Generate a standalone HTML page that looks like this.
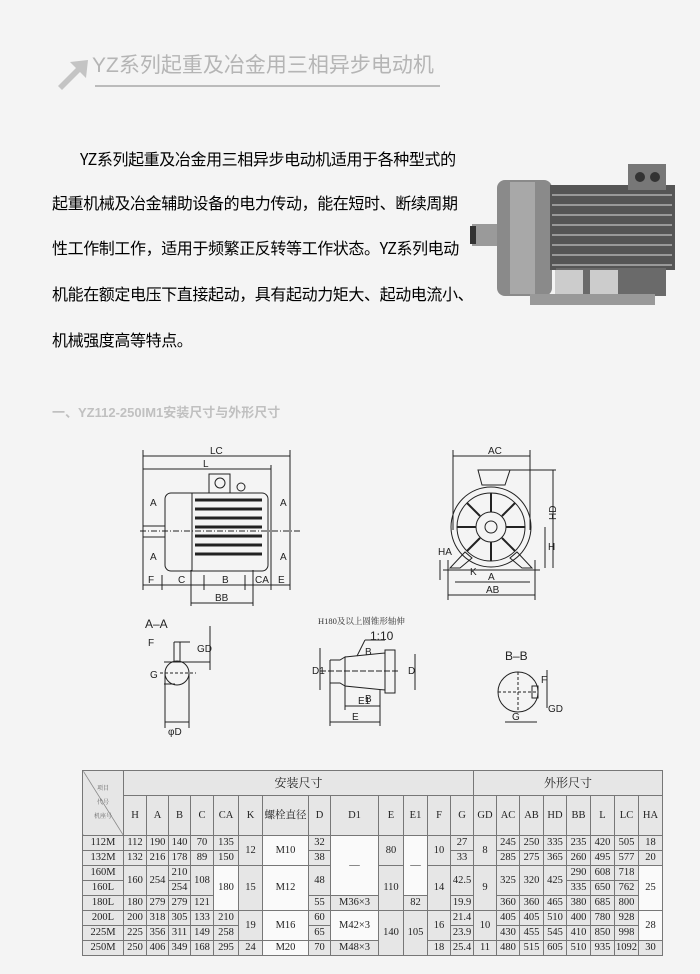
<!DOCTYPE html>
<html><head><meta charset="utf-8"><style>
body{margin:0;width:700px;height:974px;background:#f4f4f4;position:relative;overflow:hidden;font-family:"Liberation Sans","Noto Sans CJK SC",sans-serif;}
.p{position:absolute;left:52px;font-family:"Noto Sans CJK SC",sans-serif;font-size:16px;letter-spacing:-0.4px;color:#000;white-space:nowrap;line-height:22px}
table{position:absolute;left:82px;top:770px;border-collapse:collapse;font-family:"Liberation Serif","Noto Serif CJK SC",serif;font-size:10.5px;color:#222;background:#e6e6e6}
td{border:1px solid #777;text-align:center;padding:0;height:14px;line-height:14px}
.w{background:#fafafa}
</style></head><body>
<svg width="700" height="974" style="position:absolute;left:0;top:0">
<polygon points="58,86 76,68 70,62 88,60 86,78 80,72 62,90" fill="#c4c4c4"/>
<line x1="95" y1="86" x2="440" y2="86" stroke="#bbb" stroke-width="2"/>
<rect x="472" y="224" width="26" height="22" fill="#9a9a9a"/>
<rect x="470" y="226" width="6" height="18" fill="#333"/>
<rect x="497" y="180" width="55" height="116" rx="8" fill="#8a8a8a"/>
<rect x="510" y="182" width="25" height="112" fill="#a8a8a8"/>
<rect x="550" y="185" width="125" height="85" fill="#555"/>
<g stroke="#999" stroke-width="2"><line x1="552" y1="195" x2="672" y2="195"/><line x1="552" y1="205" x2="672" y2="205"/><line x1="552" y1="215" x2="672" y2="215"/><line x1="552" y1="225" x2="672" y2="225"/><line x1="552" y1="235" x2="672" y2="235"/><line x1="552" y1="245" x2="672" y2="245"/><line x1="552" y1="255" x2="672" y2="255"/><line x1="552" y1="265" x2="672" y2="265"/></g>
<rect x="628" y="164" width="38" height="26" fill="#777"/>
<circle cx="640" cy="177" r="5" fill="#333"/><circle cx="655" cy="177" r="5" fill="#333"/>
<rect x="556" y="268" width="110" height="28" fill="#6a6a6a"/>
<rect x="555" y="270" width="28" height="26" fill="#ccc"/><rect x="590" y="270" width="28" height="26" fill="#ccc"/>
<rect x="530" y="294" width="125" height="11" fill="#999"/>
<g stroke="#222" stroke-width="1" fill="none">
<line x1="143" y1="456" x2="290" y2="456"/><line x1="143" y1="469" x2="271" y2="469"/>
<line x1="143" y1="450" x2="143" y2="590"/><line x1="290" y1="450" x2="290" y2="590"/><line x1="271" y1="465" x2="271" y2="590"/>
<rect x="165" y="493" width="103" height="78" rx="6"/>
<line x1="192" y1="493" x2="192" y2="571"/>
<line x1="195" y1="500" x2="262" y2="500" stroke-width="3"/><line x1="195" y1="509" x2="262" y2="509" stroke-width="3"/><line x1="195" y1="518" x2="262" y2="518" stroke-width="3"/><line x1="195" y1="527" x2="262" y2="527" stroke-width="3"/><line x1="195" y1="536" x2="262" y2="536" stroke-width="3"/><line x1="195" y1="545" x2="262" y2="545" stroke-width="3"/><line x1="195" y1="554" x2="262" y2="554" stroke-width="3"/>
<rect x="209" y="474" width="21" height="19"/><circle cx="220" cy="483" r="5"/><circle cx="241" cy="487" r="4"/>
<rect x="143" y="526" width="22" height="11"/>
<line x1="140" y1="531" x2="300" y2="531" stroke-dasharray="6,2,1,2"/>
<line x1="143" y1="585" x2="290" y2="585"/><line x1="191" y1="603" x2="253" y2="603"/>
<line x1="191" y1="570" x2="191" y2="606"/><line x1="253" y1="570" x2="253" y2="606"/>
<line x1="162" y1="575" x2="162" y2="590"/><line x1="204" y1="575" x2="204" y2="590"/><line x1="245" y1="575" x2="245" y2="590"/>
<line x1="453" y1="456" x2="530" y2="456"/><line x1="453" y1="450" x2="453" y2="530"/><line x1="530" y1="450" x2="530" y2="530"/>
<circle cx="491" cy="527" r="40"/><circle cx="491" cy="527" r="34"/><circle cx="491" cy="527" r="15"/><circle cx="491" cy="527" r="6"/>
<g stroke-width="2"><line x1="491" y1="493" x2="491" y2="512"/><line x1="491" y1="542" x2="491" y2="561"/><line x1="457" y1="527" x2="476" y2="527"/><line x1="506" y1="527" x2="525" y2="527"/><line x1="467" y1="503" x2="480" y2="516"/><line x1="515" y1="503" x2="502" y2="516"/><line x1="467" y1="551" x2="480" y2="538"/><line x1="515" y1="551" x2="502" y2="538"/></g>
<polygon points="478,470 510,470 505,485 482,485"/>
<polygon points="465,552 450,568 460,568 472,558"/><polygon points="517,552 532,568 522,568 510,558"/>
<line x1="443" y1="570" x2="540" y2="570"/>
<line x1="455" y1="582" x2="530" y2="582"/><line x1="448" y1="595" x2="535" y2="595"/>
<line x1="448" y1="560" x2="448" y2="600"/><line x1="535" y1="560" x2="535" y2="600"/>
<line x1="553" y1="470" x2="553" y2="568"/><line x1="545" y1="527" x2="545" y2="568"/>
<line x1="500" y1="470" x2="556" y2="470"/><line x1="440" y1="560" x2="440" y2="580"/>
<circle cx="177" cy="673" r="12"/><line x1="160" y1="673" x2="196" y2="673" stroke-dasharray="3,2"/>
<line x1="164" y1="662" x2="210" y2="662"/><line x1="164" y1="684" x2="175" y2="684"/>
<line x1="165" y1="673" x2="165" y2="728"/><line x1="189" y1="673" x2="189" y2="728"/><line x1="165" y1="722" x2="189" y2="722"/>
<line x1="210" y1="626" x2="210" y2="670"/><line x1="174" y1="642" x2="190" y2="642"/><line x1="174" y1="642" x2="174" y2="662"/><line x1="180" y1="642" x2="180" y2="662"/>
<polyline points="330,660 340,660 345,657 345,686 340,683 330,683 330,660"/>
<polygon points="345,657 385,653 385,690 345,686"/><rect x="385" y="650" width="10" height="43"/>
<line x1="320" y1="671" x2="400" y2="671" stroke-dasharray="6,2"/>
<line x1="320" y1="648" x2="320" y2="690"/><line x1="415" y1="654" x2="415" y2="690"/>
<line x1="345" y1="706" x2="380" y2="706"/><line x1="330" y1="722" x2="380" y2="722"/>
<line x1="345" y1="686" x2="345" y2="710"/><line x1="330" y1="683" x2="330" y2="726"/><line x1="380" y1="690" x2="380" y2="726"/>
<line x1="357" y1="656" x2="365" y2="640"/><line x1="365" y1="640" x2="385" y2="640"/>
<circle cx="518" cy="692" r="20"/><line x1="498" y1="692" x2="538" y2="692" stroke-dasharray="3,2"/><line x1="518" y1="672" x2="518" y2="712" stroke-dasharray="3,2"/>
<rect x="532" y="686" width="6" height="12"/><line x1="505" y1="722" x2="537" y2="722"/><line x1="547" y1="670" x2="547" y2="708"/>
</g>
<g font-family="Liberation Sans" font-size="10" fill="#222">
<text x="210" y="454">LC</text><text x="203" y="467">L</text>
<text x="150" y="506">A</text><text x="150" y="560">A</text><text x="280" y="506">A</text><text x="280" y="560">A</text>
<text x="148" y="583">F</text><text x="178" y="583">C</text><text x="222" y="583">B</text><text x="255" y="583">CA</text><text x="278" y="583">E</text><text x="215" y="601">BB</text>
<text x="488" y="454">AC</text><text x="488" y="580">A</text><text x="486" y="593">AB</text><text x="470" y="575">K</text>
<text x="556" y="520" transform="rotate(-90 556 520)">HD</text><text x="548" y="550">H</text><text x="438" y="555">HA</text>
<text x="145" y="628" font-size="12">A–A</text><text x="148" y="646">F</text><text x="197" y="652">GD</text><text x="150" y="678">G</text><text x="168" y="735">φD</text>
<text x="370" y="640" font-size="12">1:10</text><text x="365" y="655">B</text><text x="365" y="702">B</text><text x="312" y="674">D1</text><text x="408" y="674">D</text><text x="358" y="704">E1</text><text x="352" y="720">E</text>
<text x="505" y="660" font-size="12">B–B</text><text x="541" y="683">F</text><text x="548" y="712">GD</text><text x="512" y="720">G</text>
</g>
<text x="318" y="624" font-family="Liberation Serif,Noto Serif CJK SC" font-size="8.5" fill="#333">H180及以上圆锥形轴伸</text>
</svg>
<div style="position:absolute;left:92px;top:52px;font-size:21px;color:#b5b5b5;white-space:nowrap;line-height:28px">YZ系列起重及冶金用三相异步电动机</div>
<div class="p" style="top:147px;left:80px">YZ系列起重及冶金用三相异步电动机适用于各种型式的</div>
<div class="p" style="top:191px">起重机械及冶金辅助设备的电力传动，能在短时、断续周期</div>
<div class="p" style="top:236px">性工作制工作，适用于频繁正反转等工作状态。YZ系列电动</div>
<div class="p" style="top:282px">机能在额定电压下直接起动，具有起动力矩大、起动电流小、</div>
<div class="p" style="top:328px">机械强度高等特点。</div>
<div style="position:absolute;left:52px;top:402px;font-size:13px;font-weight:bold;color:#c0c0c0;white-space:nowrap">一、YZ112-250IM1安装尺寸与外形尺寸</div>
<table>
<colgroup><col style="width:41px"><col style="width:23px"><col style="width:22px"><col style="width:22px"><col style="width:23px"><col style="width:25px"><col style="width:24px"><col style="width:46px"><col style="width:22px"><col style="width:48px"><col style="width:25px"><col style="width:24px"><col style="width:23px"><col style="width:23px"><col style="width:23px"><col style="width:23px"><col style="width:24px"><col style="width:23px"><col style="width:24px"><col style="width:24px"><col style="width:24px"><col style="width:24px"></colgroup>
<tr><td rowspan="2" style="height:63px;font-size:6px;color:#666;background:linear-gradient(to top right,transparent 49%,#777 50%,transparent 51%)">项目<br>代号<br>机座号</td><td colspan="13" style="height:24px;font-size:12px">安装尺寸</td><td colspan="8" style="font-size:12px">外形尺寸</td></tr>
<tr style="height:40px"><td>H</td><td>A</td><td>B</td><td>C</td><td>CA</td><td>K</td><td>螺栓直径</td><td>D</td><td>D1</td><td>E</td><td>E1</td><td>F</td><td>G</td><td>GD</td><td>AC</td><td>AB</td><td>HD</td><td>BB</td><td>L</td><td>LC</td><td>HA</td></tr>
<tr><td>112M</td><td>112</td><td>190</td><td>140</td><td>70</td><td>135</td><td rowspan="2">12</td><td rowspan="2" class="w">M10</td><td>32</td><td rowspan="4" class="w">—</td><td rowspan="2">80</td><td rowspan="4" class="w">—</td><td rowspan="2">10</td><td>27</td><td rowspan="2">8</td><td>245</td><td>250</td><td>335</td><td>235</td><td>420</td><td>505</td><td>18</td></tr>
<tr><td>132M</td><td>132</td><td>216</td><td>178</td><td>89</td><td>150</td><td>38</td><td>33</td><td>285</td><td>275</td><td>365</td><td>260</td><td>495</td><td>577</td><td>20</td></tr>
<tr><td>160M</td><td rowspan="2">160</td><td rowspan="2">254</td><td>210</td><td rowspan="2">108</td><td rowspan="3" class="w">180</td><td rowspan="3">15</td><td rowspan="3" class="w">M12</td><td rowspan="2">48</td><td rowspan="3">110</td><td rowspan="3">14</td><td rowspan="2">42.5</td><td rowspan="3">9</td><td rowspan="2">325</td><td rowspan="2">320</td><td rowspan="2">425</td><td>290</td><td>608</td><td>718</td><td rowspan="3" class="w">25</td></tr>
<tr><td>160L</td><td>254</td><td>335</td><td>650</td><td>762</td></tr>
<tr><td>180L</td><td>180</td><td>279</td><td>279</td><td>121</td><td>55</td><td>M36×3</td><td>82</td><td>19.9</td><td>360</td><td>360</td><td>465</td><td>380</td><td>685</td><td>800</td></tr>
<tr><td>200L</td><td>200</td><td>318</td><td>305</td><td>133</td><td>210</td><td rowspan="2">19</td><td rowspan="2" class="w">M16</td><td>60</td><td rowspan="2" class="w">M42×3</td><td rowspan="3">140</td><td rowspan="3">105</td><td rowspan="2">16</td><td>21.4</td><td rowspan="2">10</td><td>405</td><td>405</td><td>510</td><td>400</td><td>780</td><td>928</td><td rowspan="2" class="w">28</td></tr>
<tr><td>225M</td><td>225</td><td>356</td><td>311</td><td>149</td><td>258</td><td>65</td><td>23.9</td><td>430</td><td>455</td><td>545</td><td>410</td><td>850</td><td>998</td></tr>
<tr><td>250M</td><td>250</td><td>406</td><td>349</td><td>168</td><td>295</td><td>24</td><td class="w">M20</td><td>70</td><td>M48×3</td><td>18</td><td>25.4</td><td>11</td><td>480</td><td>515</td><td>605</td><td>510</td><td>935</td><td>1092</td><td>30</td></tr>
</table>
</body></html>
